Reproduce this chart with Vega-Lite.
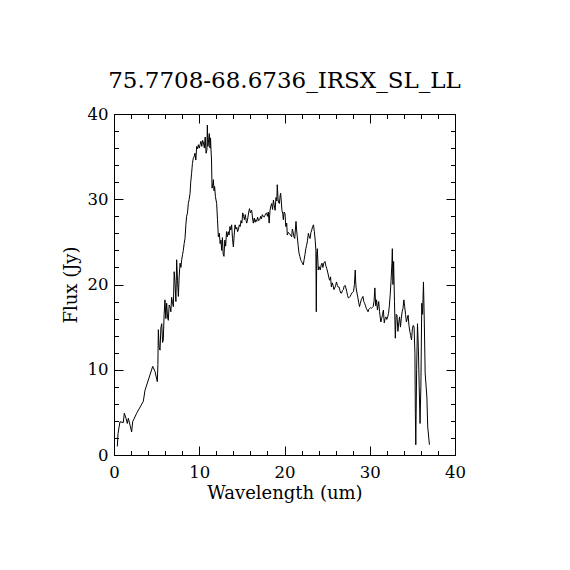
{
  "$schema": "https://vega.github.io/schema/vega-lite/v6.json",
  "autosize": {"type": "none"},
  "padding": {"left": 114, "top": 114, "right": 115, "bottom": 115},
  "width": 341,
  "height": 341,
  "background": "white",
  "title": {"text": "75.7708-68.6736_IRSX_SL_LL", "font": "DejaVu Serif", "fontSize": 23, "fontWeight": "normal", "color": "black", "anchor": "middle", "baseline": "alphabetic", "offset": -5},
  "data": {"values": [
    {"w":0.39,"f":1.0},{"w":0.47,"f":2.5},{"w":0.70,"f":3.9},{"w":1.09,"f":3.8},{"w":1.21,"f":4.9},{"w":1.41,"f":4.3},{"w":1.56,"f":3.7},{"w":1.68,"f":4.3},{"w":1.88,"f":3.5},{"w":2.07,"f":2.7},{"w":2.19,"f":3.9},{"w":2.66,"f":4.9},{"w":3.44,"f":6.3},{"w":3.64,"f":7.6},{"w":4.03,"f":8.8},{"w":4.54,"f":10.4},{"w":4.81,"f":9.8},{"w":5.08,"f":8.6},{"w":5.15,"f":10.6},{"w":5.2,"f":14.7},{"w":5.3,"f":12.6},{"w":5.4,"f":12.3},{"w":5.5,"f":14.9},{"w":5.6,"f":15.4},{"w":5.7,"f":13.2},{"w":5.78,"f":13.5},{"w":5.88,"f":16.5},{"w":5.98,"f":18.2},{"w":6.08,"f":16.0},{"w":6.18,"f":17.8},{"w":6.28,"f":16.2},{"w":6.37,"f":15.8},{"w":6.47,"f":17.6},{"w":6.57,"f":17.4},{"w":6.67,"f":16.8},{"w":6.76,"f":18.5},{"w":6.86,"f":17.9},{"w":6.96,"f":17.4},{"w":7.06,"f":21.5},{"w":7.16,"f":20.1},{"w":7.26,"f":18.0},{"w":7.35,"f":22.9},{"w":7.45,"f":20.5},{"w":7.55,"f":18.6},{"w":7.65,"f":21.0},{"w":7.75,"f":22.5},{"w":7.85,"f":22.0},{"w":7.94,"f":22.9},{"w":8.04,"f":23.5},{"w":8.13,"f":24.0},{"w":8.23,"f":24.8},{"w":8.33,"f":25.4},{"w":8.43,"f":27.0},{"w":8.52,"f":28.0},{"w":8.62,"f":28.4},{"w":8.72,"f":29.5},{"w":8.82,"f":30.0},{"w":8.92,"f":30.7},{"w":9.0,"f":32.0},{"w":9.1,"f":33.0},{"w":9.2,"f":34.2},{"w":9.3,"f":34.8},{"w":9.4,"f":35.0},{"w":9.5,"f":35.4},{"w":9.6,"f":34.6},{"w":9.7,"f":36.2},{"w":9.8,"f":35.9},{"w":9.9,"f":36.4},{"w":10.0,"f":36.0},{"w":10.1,"f":36.4},{"w":10.2,"f":36.8},{"w":10.3,"f":36.2},{"w":10.4,"f":36.9},{"w":10.5,"f":36.6},{"w":10.6,"f":36.0},{"w":10.7,"f":37.3},{"w":10.8,"f":35.4},{"w":10.9,"f":35.8},{"w":10.95,"f":38.7},{"w":11.02,"f":36.2},{"w":11.1,"f":37.0},{"w":11.18,"f":37.7},{"w":11.26,"f":36.0},{"w":11.32,"f":37.2},{"w":11.38,"f":35.8},{"w":11.44,"f":34.6},{"w":11.5,"f":31.3},{"w":11.6,"f":31.8},{"w":11.66,"f":32.3},{"w":11.73,"f":31.0},{"w":11.8,"f":31.5},{"w":11.9,"f":30.3},{"w":12.04,"f":29.5},{"w":12.14,"f":27.6},{"w":12.24,"f":25.6},{"w":12.36,"f":26.0},{"w":12.45,"f":24.8},{"w":12.55,"f":25.2},{"w":12.63,"f":24.0},{"w":12.72,"f":25.5},{"w":12.8,"f":23.6},{"w":12.9,"f":23.3},{"w":13.0,"f":25.2},{"w":13.1,"f":24.5},{"w":13.2,"f":26.2},{"w":13.3,"f":25.6},{"w":13.4,"f":26.2},{"w":13.5,"f":25.8},{"w":13.6,"f":26.8},{"w":13.7,"f":26.4},{"w":13.8,"f":27.0},{"w":13.9,"f":25.4},{"w":14.0,"f":24.4},{"w":14.1,"f":25.8},{"w":14.2,"f":27.0},{"w":14.3,"f":26.5},{"w":14.4,"f":26.7},{"w":14.5,"f":26.2},{"w":14.6,"f":26.5},{"w":14.7,"f":27.0},{"w":14.8,"f":26.8},{"w":14.9,"f":27.5},{"w":15.0,"f":27.2},{"w":15.1,"f":28.4},{"w":15.2,"f":28.0},{"w":15.3,"f":27.6},{"w":15.4,"f":28.2},{"w":15.5,"f":27.5},{"w":15.57,"f":27.2},{"w":15.7,"f":27.8},{"w":15.8,"f":28.5},{"w":15.9,"f":28.9},{"w":16.0,"f":28.4},{"w":16.15,"f":28.7},{"w":16.25,"f":27.8},{"w":16.34,"f":27.2},{"w":16.45,"f":27.8},{"w":16.55,"f":27.3},{"w":16.64,"f":27.6},{"w":16.74,"f":27.4},{"w":16.85,"f":27.9},{"w":16.95,"f":27.5},{"w":17.1,"f":27.6},{"w":17.2,"f":28.0},{"w":17.3,"f":27.7},{"w":17.4,"f":28.2},{"w":17.5,"f":28.0},{"w":17.6,"f":27.9},{"w":17.7,"f":28.1},{"w":17.8,"f":28.3},{"w":17.9,"f":28.4},{"w":18.0,"f":28.0},{"w":18.1,"f":28.5},{"w":18.2,"f":27.2},{"w":18.3,"f":28.7},{"w":18.4,"f":29.2},{"w":18.5,"f":29.5},{"w":18.6,"f":28.8},{"w":18.7,"f":29.9},{"w":18.8,"f":29.3},{"w":18.9,"f":28.7},{"w":19.0,"f":30.2},{"w":19.1,"f":29.8},{"w":19.15,"f":31.7},{"w":19.25,"f":30.0},{"w":19.3,"f":29.6},{"w":19.4,"f":29.5},{"w":19.5,"f":30.5},{"w":19.55,"f":30.7},{"w":19.62,"f":29.8},{"w":19.7,"f":28.7},{"w":19.8,"f":28.3},{"w":19.86,"f":27.6},{"w":19.95,"f":28.5},{"w":20.06,"f":28.3},{"w":20.15,"f":26.8},{"w":20.26,"f":27.2},{"w":20.33,"f":25.8},{"w":20.45,"f":26.1},{"w":20.56,"f":26.0},{"w":20.7,"f":25.8},{"w":20.84,"f":25.6},{"w":20.92,"f":26.5},{"w":21.0,"f":26.2},{"w":21.1,"f":25.6},{"w":21.2,"f":25.4},{"w":21.35,"f":27.4},{"w":21.42,"f":26.4},{"w":21.5,"f":25.6},{"w":21.6,"f":24.6},{"w":21.7,"f":23.7},{"w":21.8,"f":23.3},{"w":21.9,"f":22.9},{"w":22.0,"f":22.7},{"w":22.1,"f":22.5},{"w":22.2,"f":22.3},{"w":22.3,"f":22.9},{"w":22.4,"f":23.5},{"w":22.5,"f":24.2},{"w":22.6,"f":24.6},{"w":22.7,"f":25.2},{"w":22.8,"f":26.0},{"w":22.9,"f":25.6},{"w":23.0,"f":25.4},{"w":23.1,"f":26.1},{"w":23.2,"f":26.4},{"w":23.3,"f":26.8},{"w":23.4,"f":27.0},{"w":23.5,"f":26.2},{"w":23.6,"f":25.2},{"w":23.68,"f":24.0},{"w":23.73,"f":16.8},{"w":23.78,"f":23.5},{"w":23.85,"f":24.2},{"w":23.96,"f":21.7},{"w":24.05,"f":22.1},{"w":24.2,"f":21.7},{"w":24.3,"f":22.3},{"w":24.4,"f":22.5},{"w":24.5,"f":22.0},{"w":24.6,"f":22.5},{"w":24.75,"f":22.7},{"w":24.85,"f":22.2},{"w":24.95,"f":21.9},{"w":25.1,"f":21.3},{"w":25.2,"f":20.8},{"w":25.3,"f":20.5},{"w":25.4,"f":20.9},{"w":25.5,"f":19.7},{"w":25.6,"f":20.2},{"w":25.7,"f":19.9},{"w":25.8,"f":19.4},{"w":25.9,"f":19.6},{"w":26.0,"f":19.9},{"w":26.1,"f":20.3},{"w":26.2,"f":19.9},{"w":26.3,"f":19.7},{"w":26.4,"f":19.7},{"w":26.5,"f":19.3},{"w":26.6,"f":19.0},{"w":26.7,"f":19.0},{"w":26.8,"f":19.3},{"w":26.9,"f":19.4},{"w":27.0,"f":19.8},{"w":27.1,"f":19.9},{"w":27.2,"f":19.6},{"w":27.3,"f":19.2},{"w":27.4,"f":18.7},{"w":27.5,"f":18.4},{"w":27.6,"f":18.5},{"w":27.7,"f":18.6},{"w":27.8,"f":18.8},{"w":27.9,"f":19.0},{"w":28.0,"f":19.1},{"w":28.1,"f":19.2},{"w":28.2,"f":20.0},{"w":28.3,"f":21.7},{"w":28.35,"f":20.3},{"w":28.4,"f":19.6},{"w":28.5,"f":19.0},{"w":28.6,"f":18.5},{"w":28.7,"f":17.9},{"w":28.8,"f":17.4},{"w":28.9,"f":17.8},{"w":29.0,"f":18.2},{"w":29.1,"f":18.4},{"w":29.2,"f":18.6},{"w":29.3,"f":18.0},{"w":29.4,"f":17.8},{"w":29.5,"f":17.5},{"w":29.6,"f":17.2},{"w":29.7,"f":17.0},{"w":29.8,"f":16.8},{"w":29.9,"f":17.1},{"w":30.0,"f":17.2},{"w":30.1,"f":17.3},{"w":30.2,"f":17.2},{"w":30.3,"f":17.3},{"w":30.4,"f":17.4},{"w":30.5,"f":18.0},{"w":30.6,"f":19.6},{"w":30.7,"f":17.5},{"w":30.8,"f":18.2},{"w":30.9,"f":17.0},{"w":31.05,"f":18.0},{"w":31.15,"f":16.8},{"w":31.2,"f":16.4},{"w":31.3,"f":15.6},{"w":31.4,"f":16.0},{"w":31.5,"f":16.5},{"w":31.6,"f":17.0},{"w":31.7,"f":15.5},{"w":31.8,"f":16.0},{"w":31.9,"f":16.2},{"w":32.0,"f":15.9},{"w":32.1,"f":16.2},{"w":32.2,"f":16.6},{"w":32.3,"f":17.5},{"w":32.4,"f":18.8},{"w":32.5,"f":20.5},{"w":32.6,"f":22.5},{"w":32.65,"f":24.2},{"w":32.72,"f":20.0},{"w":32.8,"f":22.7},{"w":32.9,"f":18.0},{"w":33.0,"f":13.7},{"w":33.1,"f":16.5},{"w":33.2,"f":16.4},{"w":33.3,"f":14.5},{"w":33.4,"f":15.5},{"w":33.5,"f":16.2},{"w":33.6,"f":15.0},{"w":33.7,"f":16.0},{"w":33.8,"f":16.8},{"w":33.9,"f":17.2},{"w":34.0,"f":18.2},{"w":34.1,"f":17.4},{"w":34.2,"f":16.5},{"w":34.3,"f":15.6},{"w":34.4,"f":16.0},{"w":34.5,"f":16.4},{"w":34.6,"f":15.2},{"w":34.7,"f":14.5},{"w":34.8,"f":14.0},{"w":34.9,"f":13.5},{"w":35.0,"f":14.8},{"w":35.1,"f":15.2},{"w":35.2,"f":15.0},{"w":35.3,"f":11.9},{"w":35.35,"f":4.9},{"w":35.4,"f":1.2},{"w":35.5,"f":10.0},{"w":35.6,"f":15.4},{"w":35.7,"f":12.7},{"w":35.8,"f":8.0},{"w":35.9,"f":3.7},{"w":36.0,"f":8.2},{"w":36.1,"f":17.8},{"w":36.2,"f":16.5},{"w":36.3,"f":20.3},{"w":36.4,"f":15.6},{"w":36.5,"f":9.6},{"w":36.7,"f":6.8},{"w":36.8,"f":3.3},{"w":37.0,"f":1.2}
  ]},
  "layer": [
    {
      "mark": {"type": "line", "color": "black", "strokeWidth": 1, "interpolate": "linear"},
      "encoding": {
        "x": {"field": "w", "type": "quantitative", "scale": {"domain": [0, 40], "nice": false, "zero": false},
          "axis": {"orient": "bottom", "title": "Wavelength (um)", "values": [0,2,4,6,8,10,12,14,16,18,20,22,24,26,28,30,32,34,36,38,40],
            "tickSize": {"condition": {"test": "datum.value % 10 === 0", "value": -9}, "value": -4.5},
            "labelExpr": "datum.value % 10 === 0 ? datum.label : ''", "labelPadding": 18, "titlePadding": -1}},
        "y": {"field": "f", "type": "quantitative", "scale": {"domain": [0, 40], "nice": false, "zero": false},
          "axis": {"orient": "left", "title": "Flux (Jy)", "values": [0,2,4,6,8,10,12,14,16,18,20,22,24,26,28,30,32,34,36,38,40],
            "tickSize": {"condition": {"test": "datum.value % 10 === 0", "value": -9}, "value": -4.5},
            "labelExpr": "datum.value % 10 === 0 ? datum.label : ''", "labelPadding": 15, "titlePadding": 7}}
      }
    },
    {
      "mark": {"type": "line", "strokeOpacity": 0},
      "encoding": {
        "x": {"field": "w", "type": "quantitative", "scale": {"domain": [0, 40], "nice": false, "zero": false},
          "axis": {"orient": "top", "title": null, "labels": false, "values": [0,2,4,6,8,10,12,14,16,18,20,22,24,26,28,30,32,34,36,38,40],
            "tickSize": {"condition": {"test": "datum.value % 10 === 0", "value": -9}, "value": -4.5}}},
        "y": {"field": "f", "type": "quantitative", "scale": {"domain": [0, 40], "nice": false, "zero": false},
          "axis": {"orient": "right", "title": null, "labels": false, "values": [0,2,4,6,8,10,12,14,16,18,20,22,24,26,28,30,32,34,36,38,40],
            "tickSize": {"condition": {"test": "datum.value % 10 === 0", "value": -9}, "value": -4.5}}}
      }
    }
  ],
  "resolve": {"axis": {"x": "independent", "y": "independent"}},
  "config": {
    "view": {"stroke": "black", "strokeWidth": 1},
    "axis": {"grid": false, "domain": true, "domainColor": "black", "domainWidth": 1, "tickColor": "black", "tickWidth": 1,
      "labelFont": "DejaVu Serif", "labelFontSize": 16.5, "labelColor": "black", "labelFlush": false, "labelOverlap": false,
      "titleFont": "DejaVu Serif", "titleFontSize": 18, "titleFontWeight": "normal", "titleColor": "black"}
  }
}
